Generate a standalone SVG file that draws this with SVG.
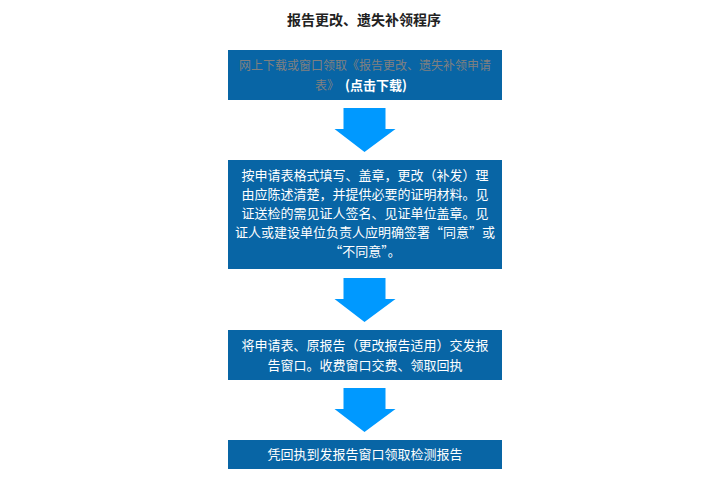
<svg xmlns="http://www.w3.org/2000/svg" width="728" height="504" viewBox="0 0 728 504">
<style>
.box{fill:#0865a5}
.arr{fill:#0099ff}
.t{font-family:"Noto Sans CJK SC","Noto Sans",sans-serif;font-size:13px;fill:#ffffff;text-anchor:middle}
.g{fill:#808080}
.title{font-family:"Noto Sans CJK SC","Noto Sans",sans-serif;font-size:14px;font-weight:bold;fill:#222222;text-anchor:middle}
</style>
<rect width="728" height="504" fill="#ffffff"/>
<text class="title" x="364" y="25">报告更改、遗失补领程序</text>
<g id="connectors">
<polygon class="arr" points="343.5,108 385.5,108 385.5,129 395.5,129 364.5,152 334.5,129 343.5,129"/>
<polygon class="arr" points="343.5,278 385.5,278 385.5,299 395.5,299 364.5,322 334.5,299 343.5,299"/>
<polygon class="arr" points="343.5,388 385.5,388 385.5,409 395.5,409 364.5,432 334.5,409 343.5,409"/>
</g>
<g id="step1">
<rect class="box" x="228" y="50" width="274" height="50"/>
<text class="t g" x="365" y="70" style="font-size:12px">网上下载或窗口领取《报告更改、遗失补领申请</text>
<text class="t" x="361" y="90" style="font-size:12px"><tspan class="g">表》</tspan><tspan dx="6" font-weight="bold" style="font-size:13px">(点击下载)</tspan></text>
</g>
<g id="step2">
<rect class="box" x="228" y="160" width="274" height="109"/>
<text class="t" x="365" y="179.5">按申请表格式填写、盖章，更改（补发）理</text>
<text class="t" x="365" y="198.5">由应陈述清楚，并提供必要的证明材料。见</text>
<text class="t" x="365" y="217.5">证送检的需见证人签名、见证单位盖章。见</text>
<text class="t" x="365" y="236.5">证人或建设单位负责人应明确签署“同意”或</text>
<text class="t" x="365" y="256">“不同意”。</text>
</g>
<g id="step3">
<rect class="box" x="228" y="330" width="274" height="50"/>
<text class="t" x="365" y="349.5">将申请表、原报告（更改报告适用）交发报</text>
<text class="t" x="365" y="369.5">告窗口。收费窗口交费、领取回执</text>
</g>
<g id="step4">
<rect class="box" x="228" y="440" width="274" height="29"/>
<text class="t" x="365" y="458.5">凭回执到发报告窗口领取检测报告</text>
</g>
</svg>
